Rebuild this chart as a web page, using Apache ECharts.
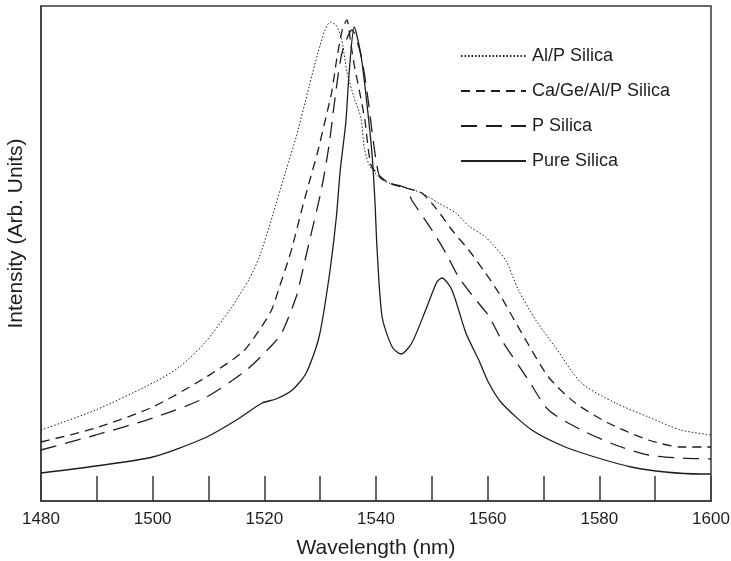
<!DOCTYPE html>
<html>
<head>
<meta charset="utf-8">
<script src="https://cdn.jsdelivr.net/npm/echarts@6/dist/echarts.min.js"></script>
<style>html,body{margin:0;padding:0;background:#fff;}#c{width:731px;height:561px;}</style>
</head>
<body>
<div id="c"></div>
<script>
// Series names
var seriesNames = ['Al/P Silica', 'Ca/Ge/Al/P Silica', 'P Silica', 'Pure Silica'];
// X tick settings
var xMin = 1480, xMax = 1600, xTickStep = 10, xLabelStep = 20;

// Al/P Silica (dotted)
var alpWl = [1480, 1489.8, 1500, 1504.8, 1509.3, 1513.8, 1517.3, 1519.1, 1521.4, 1523.9, 1525.7, 1528, 1529.6, 1530.8, 1531.8, 1532.8, 1533.8, 1534.8, 1536.1, 1537.3, 1537.9, 1538.8, 1540.5, 1542.3, 1545.4, 1548.2, 1551.2, 1554.3, 1556.6, 1559.6, 1563.2, 1565.5, 1568.6, 1572.1, 1576.8, 1582.9, 1588.8, 1594.6, 1600];
var alpInt = [71, 91, 118, 134, 158, 191, 222, 244, 284, 331, 364, 414, 448, 470, 479, 476, 463, 429, 403, 383, 353, 336, 324, 318, 313, 308, 298, 288, 275, 264, 241, 211, 181, 154, 118, 98, 84, 71, 66];

// Ca/Ge/Al/P Silica (short dash)
var cagWl = [1480, 1489.8, 1500, 1509.3, 1516.1, 1519.1, 1521.3, 1522.7, 1523.9, 1525, 1526.6, 1528, 1529.5, 1531.3, 1532.1, 1533, 1534, 1534.8, 1535.4, 1536.1, 1537, 1538, 1539.1, 1540.5, 1542.3, 1545.4, 1548.2, 1550.7, 1553.6, 1556.6, 1559.6, 1562, 1566.1, 1570.9, 1575.7, 1581.6, 1588.8, 1594.6, 1600];
var cagInt = [59, 73, 94, 123, 149, 171, 191, 214, 234, 254, 289, 318, 348, 390, 410, 443, 472, 481, 461, 436, 411, 381, 336, 326, 318, 313, 308, 293, 271, 251, 228, 208, 168, 124, 98, 78, 61, 54, 54];

// P Silica (long dash)
var psWl = [1480, 1489.8, 1500, 1509.3, 1516.8, 1521.4, 1523.2, 1525.7, 1526.6, 1528, 1530.2, 1531.6, 1532.5, 1533.9, 1535.7, 1537.3, 1538.4, 1539.3, 1540, 1540.7, 1542.3, 1545.4, 1546.4, 1550, 1552.5, 1554.8, 1557.9, 1560.2, 1562.5, 1567.3, 1570.9, 1576.8, 1582.9, 1588.8, 1594.6, 1600];
var psInt = [51, 66, 83, 103, 131, 156, 169, 204, 224, 258, 311, 356, 396, 448, 471, 446, 409, 369, 341, 324, 318, 313, 301, 271, 248, 224, 201, 185, 161, 121, 91, 71, 56, 46, 43, 42];

// Pure Silica (solid)
var pureWl = [1480, 1489.8, 1500, 1509.3, 1515, 1519.6, 1522.1, 1525, 1527.5, 1529.8, 1531.6, 1532.9, 1533.6, 1534.6, 1535.2, 1536.1, 1537.3, 1538.4, 1539.3, 1539.8, 1540.2, 1541.1, 1542.9, 1544.5, 1546.4, 1548.9, 1550.9, 1551.8, 1553.6, 1556.1, 1558.4, 1560.2, 1562.5, 1567.9, 1573.9, 1579.8, 1585.7, 1591.8, 1598.2, 1600];
var pureInt = [28, 35, 44, 63, 81, 98, 102, 111, 128, 164, 224, 284, 331, 379, 429, 474, 446, 396, 346, 301, 251, 184, 154, 147, 158, 191, 219, 223, 211, 168, 141, 118, 98, 71, 54, 43, 34, 29, 27, 27];

function pairs(xs, ys) { return xs.map(function (x, i) { return [x, ys[i]]; }); }

var ink = '#1e1e1e';
var chart = echarts.init(document.getElementById('c'));
var font = 'Liberation Sans, Arial, Helvetica, sans-serif';

function mk(name, xs, ys, type, width) {
  return {
    name: name, type: 'line', data: pairs(xs, ys), smooth: 0.25,
    symbol: 'none', showSymbol: false, z: 3,
    lineStyle: { color: ink, width: width, type: type },
    itemStyle: { color: ink },
    emphasis: { disabled: true }
  };
}

chart.setOption({
  animation: false,
  backgroundColor: '#fff',
  textStyle: { fontFamily: font },
  grid: { left: 41, right: 20, top: 6, bottom: 60, containLabel: false, outerBoundsMode: 'none', show: true, borderColor: '#3a3a3a', borderWidth: 1.5, backgroundColor: 'transparent' },
  legend: {
    orient: 'vertical', left: 455, top: 42,
    itemWidth: 65, itemHeight: 14, itemGap: 17,
    itemStyle: { opacity: 0 },
    textStyle: { fontSize: 18, color: ink, fontFamily: font, padding: [0, 0, 0, 1] },
    data: seriesNames
  },
  xAxis: {
    type: 'value', min: xMin, max: xMax, interval: xTickStep,
    name: 'Wavelength (nm)', nameLocation: 'middle', nameGap: 37,
    nameTextStyle: { fontSize: 21, color: ink, fontFamily: font },
    axisLine: { show: true, lineStyle: { color: '#3a3a3a', width: 1.5 } },
    axisTick: { show: true, inside: true, length: 25, lineStyle: { color: '#3a3a3a', width: 1.5 } },
    axisLabel: {
      fontSize: 17, color: ink, margin: 10, fontFamily: font,
      formatter: function (v) { return (v - xMin) % xLabelStep === 0 ? String(v) : ''; }
    },
    splitLine: { show: false }
  },
  yAxis: {
    type: 'value', min: 0, max: 495,
    name: 'Intensity (Arb. Units)', nameLocation: 'middle', nameGap: 14, nameRotate: 90,
    nameTextStyle: { fontSize: 21, color: ink, fontFamily: font, padding: [0, 0, 0, 40] },
    axisLine: { show: true, lineStyle: { color: '#3a3a3a', width: 1.5 } },
    axisTick: { show: false }, axisLabel: { show: false }, splitLine: { show: false }
  },
  series: [
    mk(seriesNames[0], alpWl, alpInt, [1.5, 2], 1),
    mk(seriesNames[1], cagWl, cagInt, [9, 6], 1.3),
    mk(seriesNames[2], psWl, psInt, [16, 9], 1.3),
    mk(seriesNames[3], pureWl, pureInt, 'solid', 1.3)
  ]
});
</script>
</body>
</html>
